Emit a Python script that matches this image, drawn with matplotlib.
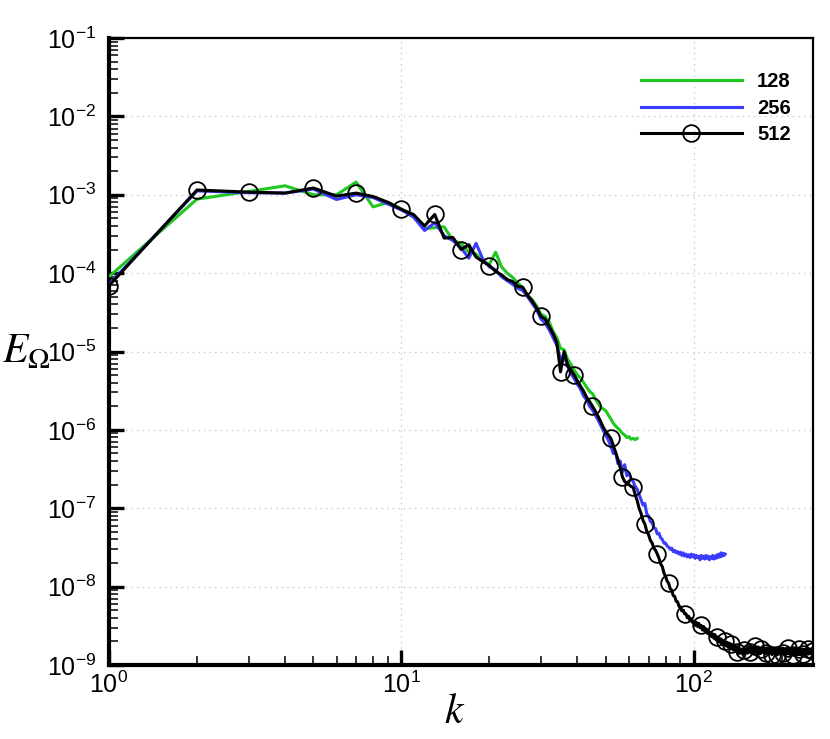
import matplotlib
matplotlib.use("Agg")
import matplotlib.pyplot as plt
from matplotlib.ticker import LogLocator, LogFormatterMathtext, NullFormatter
import numpy as np

plt.rcParams['font.family'] = ['Liberation Sans', 'DejaVu Sans']
plt.rcParams['mathtext.default'] = 'regular'
plt.rcParams['axes.unicode_minus'] = False

# ---------------- data ----------------
# resolution 128: k = 1..64
E_128 = [
    9.0e-5, 8.8e-4, 1.1e-3, 1.3e-3, 1.0e-3, 1.0e-3, 1.45e-3, 7.0e-4, 8.0e-4, 6.6e-4,
    5.2e-4, 3.7e-4, 3.8e-4, 3.9e-4, 2.6e-4, 2.4e-4, 1.85e-4, 1.75e-4, 1.4e-4, 1.3e-4,
    1.85e-4, 1.2e-4, 1.0e-4, 8.8e-5, 7.5e-5, 6.5e-5, 5.2e-5, 4.6e-5, 3.8e-5, 3.0e-5,
    2.8e-5, 2.4e-5, 1.8e-5, 1.5e-5, 1.1e-5, 1.05e-5, 8.0e-6, 6.8e-6, 5.8e-6, 5.0e-6,
    4.6e-6, 4.0e-6, 3.5e-6, 3.1e-6, 2.9e-6, 2.5e-6, 2.2e-6, 1.95e-6, 1.85e-6, 1.75e-6,
    1.55e-6, 1.38e-6, 1.22e-6, 1.12e-6, 1.05e-6, 9.8e-7, 9.0e-7, 8.6e-7, 8.0e-7, 8.2e-7,
    7.6e-7, 7.8e-7, 7.5e-7, 7.8e-7,
]

# resolution 256: k = 1..128
E_256 = [
    7.2e-5, 1.12e-3, 1.06e-3, 1.05e-3, 1.18e-3, 8.7e-4, 1.0e-3, 9.2e-4, 7.6e-4, 6.4e-4,
    5.2e-4, 3.5e-4, 4.4e-4, 3.0e-4, 2.6e-4, 2.1e-4, 1.55e-4, 2.4e-4, 1.5e-4, 1.2e-4,
    1.1e-4, 9.0e-5, 8.0e-5, 7.2e-5, 6.4e-5, 6.0e-5, 5.0e-5, 4.1e-5, 3.4e-5, 2.6e-5,
    2.3e-5, 1.9e-5, 1.5e-5, 1.2e-5, 8.0e-6, 9.0e-6, 6.5e-6, 5.2e-6, 4.5e-6, 3.8e-6,
    3.3e-6, 2.7e-6, 2.4e-6, 2.0e-6, 1.8e-6, 1.55e-6, 1.35e-6, 1.15e-6, 9.8e-7, 8.5e-7,
    7.4e-7, 6.2e-7, 5.0e-7, 5.2e-7, 3.7e-7, 4.0e-7, 2.9e-7, 3.6e-7, 2.6e-7, 2.8e-7,
    2.4e-7, 2.2e-7, 1.9e-7, 1.75e-7, 1.5e-7, 1.3e-7, 1.1e-7, 1.15e-7, 8.5e-8, 8.0e-8,
    6.8e-8, 6.5e-8, 5.6e-8, 5.5e-8, 4.7e-8, 4.8e-8, 4.2e-8, 4.0e-8, 3.6e-8, 3.6e-8,
    3.3e-8, 3.2e-8, 3.0e-8, 3.1e-8, 2.8e-8, 2.9e-8, 2.7e-8, 2.8e-8, 2.6e-8, 2.75e-8,
    2.5e-8, 2.7e-8, 2.45e-8, 2.6e-8, 2.4e-8, 2.55e-8, 2.35e-8, 2.6e-8, 2.4e-8, 2.55e-8,
    2.3e-8, 2.5e-8, 2.35e-8, 2.45e-8, 2.2e-8, 2.5e-8, 2.3e-8, 2.45e-8, 2.25e-8, 2.5e-8,
    2.3e-8, 2.45e-8, 2.2e-8, 2.4e-8, 2.3e-8, 2.5e-8, 2.25e-8, 2.45e-8, 2.3e-8, 2.55e-8,
    2.35e-8, 2.6e-8, 2.4e-8, 2.7e-8, 2.45e-8, 2.65e-8, 2.5e-8, 2.6e-8,
]

# resolution 512: k = 1..256
E_512 = [
    6.9e-5, 1.15e-3, 1.08e-3, 1.05e-3, 1.22e-3, 9.6e-4, 1.05e-3, 9.5e-4, 8.0e-4, 6.5e-4,
    5.6e-4, 4.0e-4, 5.6e-4, 2.8e-4, 2.85e-4, 2.0e-4, 2.3e-4, 1.6e-4, 1.4e-4, 1.25e-4,
    1.05e-4, 9.5e-5, 8.3e-5, 7.8e-5, 6.8e-5, 6.6e-5, 5.2e-5, 4.4e-5, 3.6e-5, 2.8e-5,
    2.6e-5, 2.1e-5, 1.7e-5, 1.3e-5, 5.5e-6, 1.0e-5, 6.8e-6, 5.8e-6, 5.0e-6, 4.2e-6,
    3.6e-6, 3.1e-6, 2.6e-6, 2.3e-6, 2.0e-6, 1.75e-6, 1.5e-6, 1.28e-6, 1.08e-6, 9.5e-7,
    8.6e-7, 7.8e-7, 6.4e-7, 5.2e-7, 4.2e-7, 3.3e-7, 2.5e-7, 2.2e-7, 2.05e-7, 2.0e-7,
    1.9e-7, 1.85e-7, 1.5e-7, 1.25e-7, 1.0e-7, 8.6e-8, 7.0e-8, 6.3e-8, 5.1e-8, 4.6e-8,
    3.9e-8, 3.6e-8, 3.1e-8, 2.9e-8, 2.6e-8, 2.3e-8, 1.95e-8, 1.8e-8, 1.5e-8, 1.35e-8,
    1.18e-8, 1.1e-8, 9.4e-9, 9.0e-9, 7.7e-9, 7.5e-9, 6.5e-9, 6.4e-9, 5.6e-9, 5.5e-9,
    4.9e-9, 5.0e-9, 4.5e-9, 4.5e-9, 4.0e-9, 4.2e-9, 3.7e-9, 3.9e-9, 3.5e-9, 3.6e-9,
    3.2e-9, 3.5e-9, 3.1e-9, 3.4e-9, 3.0e-9, 3.2e-9, 2.8e-9, 3.1e-9, 2.7e-9, 2.9e-9,
    2.55e-9, 2.8e-9, 2.45e-9, 2.6e-9, 2.3e-9, 2.5e-9, 2.2e-9, 2.45e-9, 2.1e-9, 2.3e-9,
    2.0e-9, 2.2e-9, 1.95e-9, 2.15e-9, 1.85e-9, 2.05e-9, 1.8e-9, 2.0e-9, 1.75e-9, 1.95e-9,
    1.7e-9, 1.9e-9, 1.65e-9, 1.85e-9, 1.6e-9, 1.8e-9, 1.55e-9, 1.75e-9, 1.5e-9, 1.7e-9,
    1.45e-9, 1.65e-9, 1.4e-9, 1.6e-9, 1.45e-9, 1.6e-9, 1.38e-9, 1.55e-9, 1.4e-9, 1.6e-9,
    1.45e-9, 1.65e-9, 1.42e-9, 1.7e-9, 1.48e-9, 1.72e-9, 1.5e-9, 1.68e-9, 1.45e-9, 1.7e-9,
    1.5e-9, 1.75e-9, 1.45e-9, 1.66e-9, 1.42e-9, 1.7e-9, 1.48e-9, 1.64e-9, 1.4e-9, 1.62e-9,
    1.45e-9, 1.68e-9, 1.5e-9, 1.6e-9, 1.38e-9, 1.62e-9, 1.44e-9, 1.66e-9, 1.4e-9, 1.58e-9,
    1.42e-9, 1.63e-9, 1.45e-9, 1.6e-9, 1.36e-9, 1.55e-9, 1.4e-9, 1.62e-9, 1.38e-9, 1.58e-9,
    1.4e-9, 1.6e-9, 1.35e-9, 1.57e-9, 1.42e-9, 1.6e-9, 1.38e-9, 1.55e-9, 1.36e-9, 1.6e-9,
    1.42e-9, 1.64e-9, 1.4e-9, 1.58e-9, 1.37e-9, 1.62e-9, 1.45e-9, 1.6e-9, 1.4e-9, 1.65e-9,
    1.44e-9, 1.58e-9, 1.36e-9, 1.55e-9, 1.4e-9, 1.6e-9, 1.38e-9, 1.56e-9, 1.35e-9, 1.55e-9,
    1.4e-9, 1.6e-9, 1.37e-9, 1.57e-9, 1.35e-9, 1.55e-9, 1.4e-9, 1.58e-9, 1.36e-9, 1.55e-9,
    1.38e-9, 1.57e-9, 1.35e-9, 1.52e-9, 1.4e-9, 1.6e-9, 1.38e-9, 1.56e-9, 1.36e-9, 1.55e-9,
    1.4e-9, 1.58e-9, 1.37e-9, 1.56e-9, 1.42e-9, 1.6e-9, 1.38e-9, 1.55e-9, 1.4e-9, 1.58e-9,
    1.42e-9, 1.6e-9, 1.45e-9, 1.62e-9, 1.5e-9, 1.55e-9,
]

# wavenumbers that carry a circle symbol on the 512 curve
marker_k_512 = [1, 2, 3, 5, 7, 10, 13, 16, 20, 26, 30, 35, 39, 45, 52, 57, 62, 68, 75,
                82, 93, 106, 120, 128, 134, 141, 148, 155, 162, 170, 177, 185, 193,
                201, 210, 219, 228, 237, 246, 255]

labels = ['128', '256', '512']
colors = ['#1ec81e', '#3c3cff', 'black']

k_128 = np.arange(1, len(E_128) + 1)
k_256 = np.arange(1, len(E_256) + 1)
k_512 = np.arange(1, len(E_512) + 1)
mark_idx = [k - 1 for k in marker_k_512]

# ---------------- figure ----------------
fig = plt.figure(figsize=(8.3, 7.39), dpi=100)
ax = fig.add_axes([0.1313, 0.1001, 0.8485, 0.8485])

ax.plot(k_128, E_128, color=colors[0], lw=2.2, label=labels[0], zorder=3)
ax.plot(k_256, E_256, color=colors[1], lw=2.2, label=labels[1], zorder=4)
ax.plot(k_512, E_512, color=colors[2], lw=2.2, label=labels[2], zorder=5,
        marker='o', markersize=12, markerfacecolor='none', markeredgecolor='black',
        markeredgewidth=1.3, markevery=mark_idx)

ax.set_xscale('log')
ax.set_yscale('log')
ax.set_xlim(1, 256)
ax.set_ylim(1e-9, 1e-1)

ax.xaxis.set_major_locator(LogLocator(base=10, numticks=10))
ax.yaxis.set_major_locator(LogLocator(base=10, numticks=20))
ax.xaxis.set_minor_locator(LogLocator(base=10, subs=np.arange(2, 10), numticks=20))
ax.yaxis.set_minor_locator(LogLocator(base=10, subs=np.arange(2, 10), numticks=20))
ax.xaxis.set_major_formatter(LogFormatterMathtext())
ax.yaxis.set_major_formatter(LogFormatterMathtext())
ax.xaxis.set_minor_formatter(NullFormatter())
ax.yaxis.set_minor_formatter(NullFormatter())

ax.tick_params(which='major', direction='in', length=11, width=2.4, labelsize=18,
               top=False, right=False)
ax.tick_params(which='minor', direction='in', length=6.5, width=1.1,
               top=False, right=False)
ax.tick_params(axis='y', which='major', pad=9)
ax.tick_params(axis='x', which='major', pad=5)

for side in ['left', 'bottom']:
    ax.spines[side].set_linewidth(3.0)
for side in ['top', 'right']:
    ax.spines[side].set_linewidth(1.6)

ax.grid(True, which='major', linestyle=(0, (1, 3)), color='#c8c8c8', linewidth=1.0)
ax.set_axisbelow(True)

fig.text(0.003, 0.51, r'$\mathit{E}_{\mathrm{\Omega}}$', fontsize=30,
         math_fontfamily='stix', ha='left', va='baseline')
fig.text(0.548, 0.022, r'$\mathit{k}$', fontsize=30, math_fontfamily='stix',
         ha='center', va='baseline')

leg = ax.legend(loc='upper right', bbox_to_anchor=(0.968, 0.945), frameon=False,
                prop={'weight': 'bold', 'size': 14.5}, handlelength=5.0,
                handletextpad=0.75, labelspacing=0.36, borderpad=0,
                borderaxespad=0, numpoints=1)

fig.savefig('out.png', dpi=100)
